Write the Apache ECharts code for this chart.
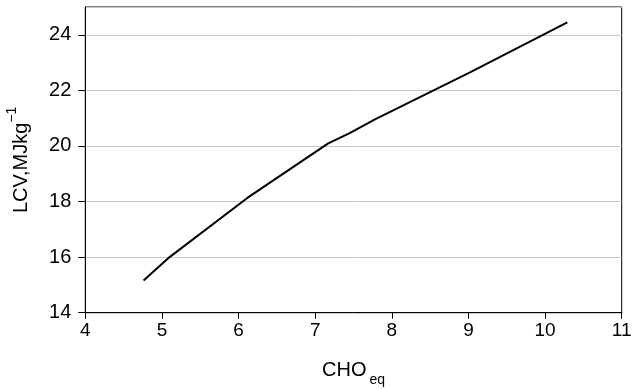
<!DOCTYPE html>
<html>
<head>
<meta charset="utf-8">
<script src="https://cdn.jsdelivr.net/npm/echarts@6/dist/echarts.min.js"></script>
<style>html,body{margin:0;padding:0;background:#fff}#c{width:632px;height:390px}</style>
</head>
<body>
<div id="c"></div>
<script>
const choEq = [4.76, 5.10, 6.11, 7.17, 7.45, 7.78, 9.02, 10.29];
const lcv = [15.16, 16.00, 18.12, 20.09, 20.46, 20.96, 22.65, 24.45];
const xTicks = { min: 4, max: 11, interval: 1 };
const yTicks = { min: 14, max: 25, interval: 2 };

const chart = echarts.init(document.getElementById('c'), null, { renderer: 'canvas' });
const font = 'Liberation Sans, Arial, sans-serif';
chart.setOption({
  animation: false,
  backgroundColor: '#fff',
  grid: { left: 85.3, right: 10.3, top: 7, bottom: 77.3, containLabel: false, outerBoundsMode: 'none', show: true, borderColor: '#000', borderWidth: 1, backgroundColor: 'transparent' },
  xAxis: {
    type: 'value', min: xTicks.min, max: xTicks.max, interval: xTicks.interval,
    axisLine: { lineStyle: { color: '#000', width: 1 } },
    axisTick: { show: true, length: 6, lineStyle: { color: '#000' } },
    axisLabel: { color: '#000', fontSize: 19, fontFamily: font, margin: 9 },
    splitLine: { show: false },
    name: '{a|CHO}{b|eq}', nameLocation: 'middle', nameGap: 48,
    nameTextStyle: { rich: { a: { fontSize: 20, fontFamily: font, color: '#000', verticalAlign: 'top', lineHeight: 26 }, b: { fontSize: 14, fontFamily: font, color: '#000', verticalAlign: 'bottom', lineHeight: 26, padding: [8, 0, 0, 3] } } }
  },
  yAxis: {
    type: 'value', min: yTicks.min, max: yTicks.max, interval: yTicks.interval,
    axisLine: { show: true, lineStyle: { color: '#000', width: 1 } },
    axisTick: { show: true, length: 7, lineStyle: { color: '#000' } },
    axisLabel: { color: '#000', fontSize: 20, fontFamily: font, margin: 14, showMaxLabel: false },
    splitLine: { show: true, lineStyle: { color: '#c8c8c8', width: 1 } },
    name: '{a|LCV,MJkg}{s|\u22121}', nameLocation: 'middle', nameGap: 54, nameRotate: 90,
    nameTextStyle: { rich: { a: { fontSize: 20, fontFamily: font, color: '#000', verticalAlign: 'bottom', lineHeight: 26 }, s: { fontSize: 14, fontFamily: font, color: '#000', verticalAlign: 'top', lineHeight: 26, padding: [0, 0, 5, 0] } } }
  },
  series: [{
    type: 'line', data: choEq.map((x, i) => [x, lcv[i]]),
    showSymbol: false, symbol: 'none',
    lineStyle: { color: '#000', width: 2 }
  }]
});
</script>
</body>
</html>
